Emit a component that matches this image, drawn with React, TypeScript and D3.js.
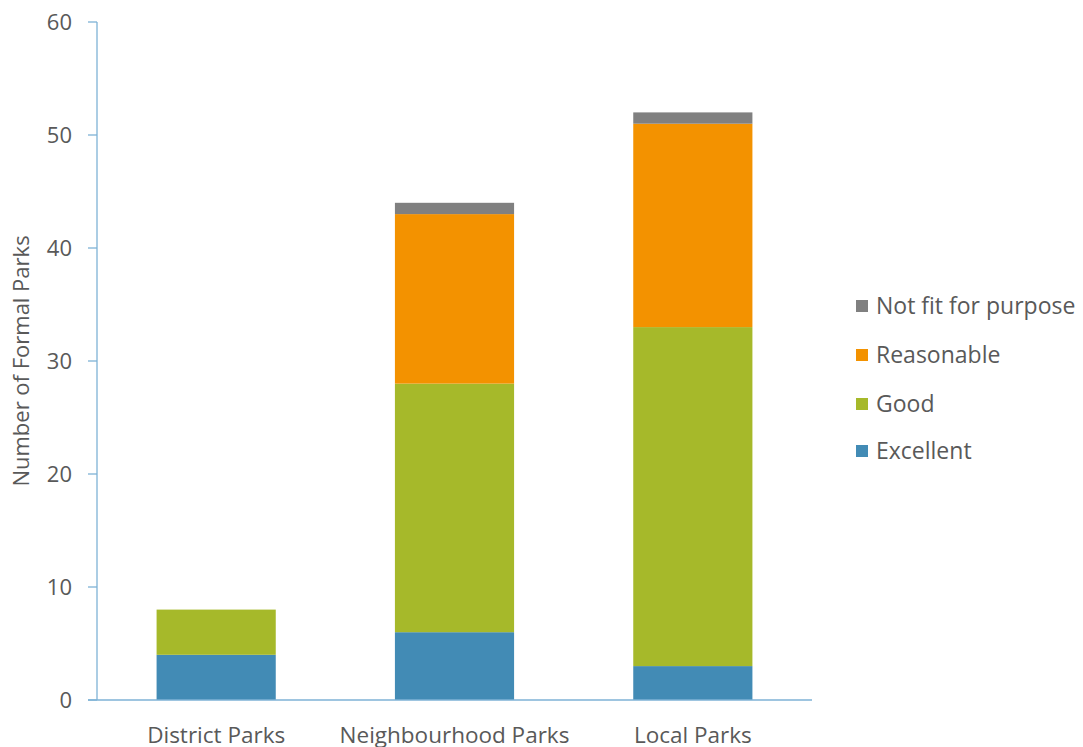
import React from "react";
import * as d3 from "d3";

const categories = ["District Parks", "Neighbourhood Parks", "Local Parks"];
const seriesNames = ["Excellent", "Good", "Reasonable", "Not fit for purpose"];
const excellent = [4, 6, 3];
const good = [4, 22, 30];
const reasonable = [0, 15, 18];
const notFit = [0, 1, 1];
const yTicks = [0, 10, 20, 30, 40, 50, 60];
const colors = ["#428bb5", "#a6b92a", "#f39200", "#808080"];

export default function App() {
  const W = 1083, H = 747;
  const left = 97, right = 812, top = 22, bottom = 700;
  const x = d3.scaleBand<string>().domain(categories).range([left, right]).paddingInner(0.5).paddingOuter(0.25);
  const y = d3.scaleLinear().domain([0, 60]).range([bottom, top]);
  const values = [excellent, good, reasonable, notFit];
  const rows = categories.map((c, i) => {
    const r: any = { cat: c };
    seriesNames.forEach((s, k) => (r[s] = values[k][i]));
    return r;
  });
  const stacked = d3.stack<any>().keys(seriesNames)(rows);
  const axisColor = "#7eb2d6";
  const textColor = "#595959";
  const font = "'Open Sans', 'Noto Sans', sans-serif";
  const legendY = [306, 355, 404, 451];
  const legendOrder = [3, 2, 1, 0];
  return (
    <svg width={W} height={H} style={{ position: "absolute", left: 0, top: 0 }} fontFamily={font}>
      <rect x={0} y={0} width={W} height={H} fill="#fff" />
      {stacked.map((layer, k) =>
        layer.map((d, i) =>
          d[1] - d[0] > 0 ? (
            <rect
              key={`${k}-${i}`}
              x={x(categories[i])}
              y={y(d[1])}
              width={x.bandwidth()}
              height={y(d[0]) - y(d[1])}
              fill={colors[k]}
            />
          ) : null
        )
      )}
      <line x1={left} x2={left} y1={top} y2={bottom} stroke={axisColor} strokeWidth={1.3} />
      <line x1={88} x2={right} y1={bottom} y2={bottom} stroke={axisColor} strokeWidth={1.3} />
      {yTicks.map((t) => (
        <g key={t}>
          <line x1={88} x2={left} y1={y(t)} y2={y(t)} stroke={axisColor} strokeWidth={1.3} />
          <text x={72} y={y(t)} dy="0.35em" textAnchor="end" fontSize={22} fill={textColor}>
            {t}
          </text>
        </g>
      ))}
      {categories.map((c) => (
        <text key={c} x={(x(c) as number) + x.bandwidth() / 2} y={743} textAnchor="middle" fontSize={22.5} fill={textColor}>
          {c}
        </text>
      ))}
      <text transform={`translate(29,361) rotate(-90)`} textAnchor="middle" fontSize={22} fill={textColor}>
        Number of Formal Parks
      </text>
      {legendOrder.map((k, j) => (
        <g key={k}>
          <rect x={856} y={legendY[j] - 6} width={12} height={12} fill={colors[k]} />
          <text x={876} y={legendY[j]} dy="0.35em" fontSize={23} fill={textColor}>
            {seriesNames[k]}
          </text>
        </g>
      ))}
    </svg>
  );
}
